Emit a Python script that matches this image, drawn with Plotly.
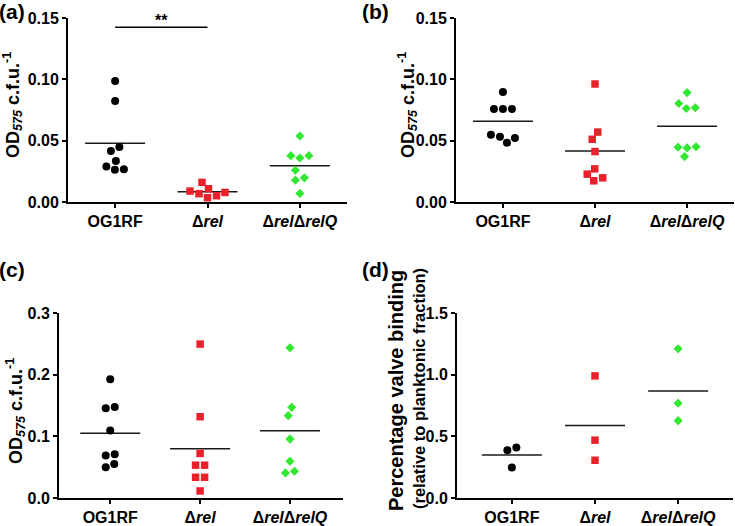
import numpy as np
import plotly.graph_objects as go

W, H = 735, 526
FONT = "Arial, Liberation Sans, sans-serif"

groups = ["OG1RF", "Δ<i>rel</i>", "Δ<i>rel</i>Δ<i>relQ</i>"]

a_og1rf = [0.0986, 0.0824, 0.0449, 0.0416, 0.0335, 0.0289, 0.0268, 0.0262]
a_rel = [0.0160, 0.0108, 0.0089, 0.0078, 0.0068, 0.0051, 0.0035]
a_relq = [0.0538, 0.0378, 0.0378, 0.0359, 0.0259, 0.0197, 0.0178, 0.0070]

b_og1rf = [0.0897, 0.0759, 0.0759, 0.0759, 0.0549, 0.0532, 0.0522, 0.0484]
b_rel = [0.0962, 0.0570, 0.0511, 0.0411, 0.0270, 0.0227, 0.0197, 0.0173]
b_relq = [0.0892, 0.0803, 0.0768, 0.0762, 0.0451, 0.0446, 0.0441, 0.0370]

c_og1rf = [0.1926, 0.1476, 0.1454, 0.1096, 0.0711, 0.0689, 0.0553, 0.0499]
c_rel = [0.2496, 0.1318, 0.0722, 0.0532, 0.0532, 0.0336, 0.0336, 0.0114]
c_relq = [0.2436, 0.1470, 0.1335, 0.0955, 0.0597, 0.0434, 0.0407]

d_og1rf = [0.410, 0.388, 0.247]
d_rel = [0.990, 0.469, 0.306]
d_relq = [1.210, 0.768, 0.627]

# significance bar in (a): OG1RF vs rel
sig_pair = (0, 1)
sig_y = 0.1425
sig_text = "**"

colors = ["#000000", "#e8212b", "#2fe82f"]
symbols = ["circle", "square", "diamond"]
msizes = [8, 7.5, 7]

od_title = ["OD<sub><i>575</i></sub> c.f.u.<sup>-1</sup>"]
pct_title = ["Percentage valve binding", "(relative to planktonic fraction)"]

# panel layout, pixel boxes (left, right, top, bottom); title lines: (x, y, size)
panels = [
    dict(key="", label="(a)", data=[a_og1rf, a_rel, a_relq], box=(68, 347, 18, 202),
         xr=[-0.51, 2.51], yr=[0, 0.15], dtick=0.05, fmt=".2f",
         title=od_title, title_pos=[(13, 105, 18)], label_xy=(0, 0)),
    dict(key="2", label="(b)", data=[b_og1rf, b_rel, b_relq], box=(456, 734, 18, 202),
         xr=[-0.51, 2.51], yr=[0, 0.15], dtick=0.05, fmt=".2f",
         title=od_title, title_pos=[(408, 105, 18)], label_xy=(363, 0)),
    dict(key="3", label="(c)", data=[c_og1rf, c_rel, c_relq], box=(59, 343, 313, 498),
         xr=[-0.57, 2.59], yr=[0, 0.3], dtick=0.1, fmt=".1f",
         title=od_title, title_pos=[(15, 411, 18)], label_xy=(0, 258)),
    dict(key="4", label="(d)", data=[d_og1rf, d_rel, d_relq], box=(457, 733, 313, 498),
         xr=[-0.66, 2.66], yr=[0, 1.5], dtick=0.5, fmt=".1f",
         title=pct_title, title_pos=[(396, 391, 20), (419, 389, 16.5)], label_xy=(363, 258)),
]


def swarm(vals, y_scale, d=9.0):
    # horizontal offsets (px) so markers don't overlap, centred per cluster
    vals = np.asarray(vals, dtype=float)
    ys = vals * y_scale
    order = list(np.argsort(vals))
    offs = np.zeros(len(vals))
    clusters, cur = [], [order[0]]
    for p, q in zip(order[:-1], order[1:]):
        if ys[q] - ys[p] < d:
            cur.append(q)
        else:
            clusters.append(cur)
            cur = [q]
    clusters.append(cur)
    cands = sorted(np.arange(-80, 80.5, 0.5), key=lambda c: (abs(c), -c))
    for cl in clusters:
        placed = []
        for i in cl:
            for c in cands:
                if all((c - offs[j]) ** 2 + (ys[i] - ys[j]) ** 2 >= d * d for j in placed):
                    offs[i] = c
                    break
            placed.append(i)
        lo, hi = offs[cl].min(), offs[cl].max()
        offs[cl] -= (lo + hi) / 2
    return offs


fig = go.Figure()
layout = dict(width=W, height=H, margin=dict(l=0, r=0, t=0, b=0),
              plot_bgcolor="white", paper_bgcolor="white", showlegend=False,
              font=dict(family=FONT, color="black"))
annotations = []

tick_font = dict(family=FONT, size=16, color="black", weight="bold")

for p in panels:
    l, r, t, b = p["box"]
    xs_px = (r - l) / (p["xr"][1] - p["xr"][0])
    ys_px = (b - t) / (p["yr"][1] - p["yr"][0])
    xa, ya = "x" + p["key"], "y" + p["key"]
    half = 30 / xs_px

    for i, vals in enumerate(p["data"]):
        m = float(np.mean(vals))
        fig.add_trace(go.Scatter(x=[i - half, i + half], y=[m, m], mode="lines",
                                 line=dict(color="#1a1a1a", width=1.5),
                                 xaxis=xa, yaxis=ya, hoverinfo="skip"))
    for i, vals in enumerate(p["data"]):
        offs = swarm(vals, ys_px)
        fig.add_trace(go.Scatter(x=i + offs / xs_px, y=vals, mode="markers",
                                 marker=dict(color=colors[i], symbol=symbols[i],
                                             size=msizes[i], line=dict(width=0)),
                                 xaxis=xa, yaxis=ya))

    layout["xaxis" + p["key"]] = dict(
        domain=[l / W, r / W], range=p["xr"], anchor=ya,
        tickvals=[0, 1, 2], ticktext=groups, tickfont=tick_font,
        showline=True, linecolor="black", linewidth=2, mirror=False,
        ticks="outside", ticklen=4, tickwidth=1.5, tickcolor="black",
        showgrid=False, zeroline=False, automargin=False, fixedrange=True)
    layout["yaxis" + p["key"]] = dict(
        domain=[1 - b / H, 1 - t / H], range=p["yr"], anchor=xa,
        dtick=p["dtick"], tick0=0, tickformat=p["fmt"], tickfont=tick_font,
        showline=True, linecolor="black", linewidth=2,
        ticks="outside", ticklen=4, tickwidth=2, tickcolor="black",
        showgrid=False, zeroline=False, automargin=False, fixedrange=True)

    for text, (tx, ty, ts) in zip(p["title"], p["title_pos"]):
        annotations.append(dict(text=text, x=tx / W, y=1 - ty / H, xref="paper", yref="paper",
                                xanchor="center", yanchor="middle", textangle=-90, showarrow=False,
                                font=dict(family=FONT, size=ts, color="black", weight="bold")))
    lx, ly = p["label_xy"]
    annotations.append(dict(text=p["label"], x=lx / W, y=1 - ly / H, xref="paper", yref="paper",
                            xanchor="left", yanchor="top", showarrow=False, xshift=-3, yshift=2,
                            font=dict(family=FONT, size=21, color="black", weight="bold")))

# significance marker on (a)
fig.add_trace(go.Scatter(x=list(sig_pair), y=[sig_y, sig_y], mode="lines",
                         line=dict(color="black", width=1.5), xaxis="x", yaxis="y",
                         hoverinfo="skip"))
annotations.append(dict(text=sig_text, x=sum(sig_pair) / 2, y=sig_y, xref="x", yref="y",
                        xanchor="center", yanchor="bottom", showarrow=False, yshift=-4,
                        font=dict(family=FONT, size=16, color="black", weight="bold")))

layout["annotations"] = annotations
fig.update_layout(**layout)
# page has a default body margin; drop it so the figure fills the window
fig.write_html("out.html", config={"displayModeBar": False},
               post_script="document.body.style.margin='0';document.body.style.overflow='hidden';")
